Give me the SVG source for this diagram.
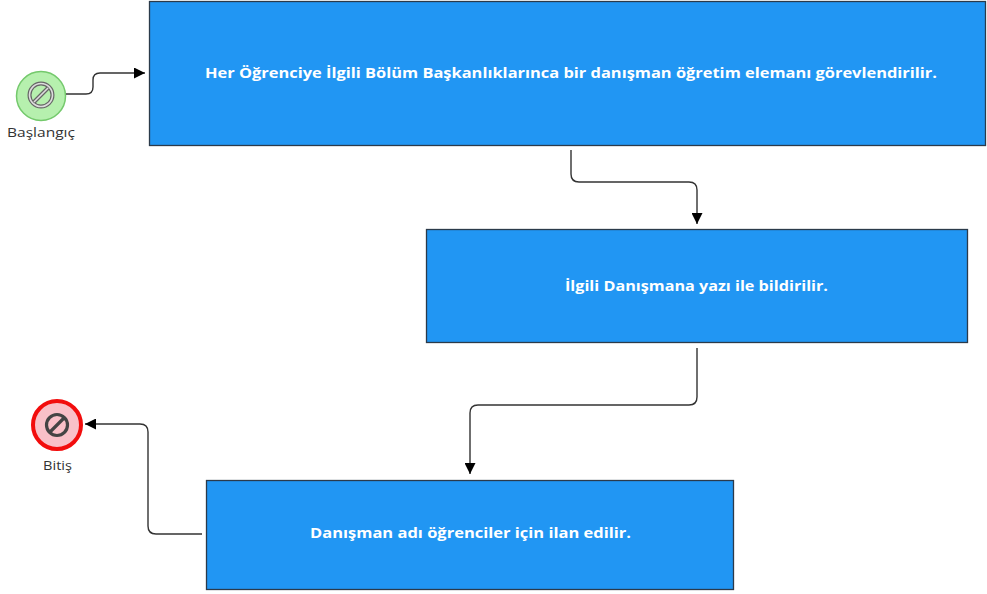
<svg xmlns="http://www.w3.org/2000/svg" width="987" height="594" viewBox="0 0 987 594">
<defs>
<style>
.box{fill:#2196F3;stroke:#2b3a4a;stroke-width:1.3}
.btxt{font-family:"Open Sans","Liberation Sans",Arial,sans-serif;font-weight:bold;font-size:15px;fill:#fff;text-anchor:middle}
.lbl{font-family:"Open Sans","Liberation Sans",Arial,sans-serif;font-size:13.5px;fill:#333;text-anchor:middle}
.conn{fill:none;stroke:#333;stroke-width:1.4}
</style>
<marker id="arr" viewBox="0 0 10 10" refX="10" refY="5" markerWidth="11" markerHeight="11" markerUnits="userSpaceOnUse" orient="auto">
<path d="M0,0 L10,5 L0,10 z" fill="#000"/>
</marker>
</defs>
<rect width="987" height="594" fill="#fff"/>
<g id="start">
<circle cx="41" cy="96" r="24.5" fill="#b6f0ae" stroke="#74c96c" stroke-width="1.5"/>
<circle cx="41" cy="95" r="11.5" fill="none" stroke="#666" stroke-width="4"/>
<circle cx="41" cy="95" r="11.5" fill="none" stroke="#ddd" stroke-width="1.6"/>
<line x1="34" y1="102" x2="48" y2="88" stroke="#666" stroke-width="4"/>
<line x1="34" y1="102" x2="48" y2="88" stroke="#ddd" stroke-width="1.6"/>
<text class="lbl" x="41" y="137" textLength="68" lengthAdjust="spacingAndGlyphs">Başlangıç</text>
</g>
<g id="end">
<circle cx="57" cy="425" r="24" fill="#f9c0c8" stroke="#f20d0d" stroke-width="4"/>
<circle cx="57" cy="425" r="10.5" fill="none" stroke="#444" stroke-width="3.2"/>
<line x1="50" y1="432" x2="64" y2="418" stroke="#444" stroke-width="3.2"/>
<text class="lbl" x="57.5" y="470" textLength="29" lengthAdjust="spacingAndGlyphs">Bitiş</text>
</g>
<g id="task1">
<rect class="box" x="149.5" y="1.5" width="836" height="144"/>
<text class="btxt" x="571" y="78" textLength="732" lengthAdjust="spacingAndGlyphs">Her Öğrenciye İlgili Bölüm Başkanlıklarınca bir danışman öğretim elemanı görevlendirilir.</text>
</g>
<g id="task2">
<rect class="box" x="426.5" y="229.5" width="541" height="113"/>
<text class="btxt" x="696.5" y="291" textLength="263" lengthAdjust="spacingAndGlyphs">İlgili Danışmana yazı ile bildirilir.</text>
</g>
<g id="task3">
<rect class="box" x="206.5" y="480.5" width="527" height="109"/>
<text class="btxt" x="470.5" y="538" textLength="321" lengthAdjust="spacingAndGlyphs">Danışman adı öğrenciler için ilan edilir.</text>
</g>
<g id="connectors">
<path class="conn" marker-end="url(#arr)" d="M66,94 L86,94 Q93,94 93,87 L93,80 Q93,73 100,73 L145,73"/>
<path class="conn" marker-end="url(#arr)" d="M571,150 L571,174 Q571,182 579,182 L689,182 Q697,182 697,190 L697,224"/>
<path class="conn" marker-end="url(#arr)" d="M697,348 L697,397 Q697,405 689,405 L478,405 Q470,405 470,413 L470,474"/>
<path class="conn" marker-end="url(#arr)" d="M202,534 L156,534 Q148,534 148,526 L148,432 Q148,424 140,424 L85,424"/>
</g>
</svg>
